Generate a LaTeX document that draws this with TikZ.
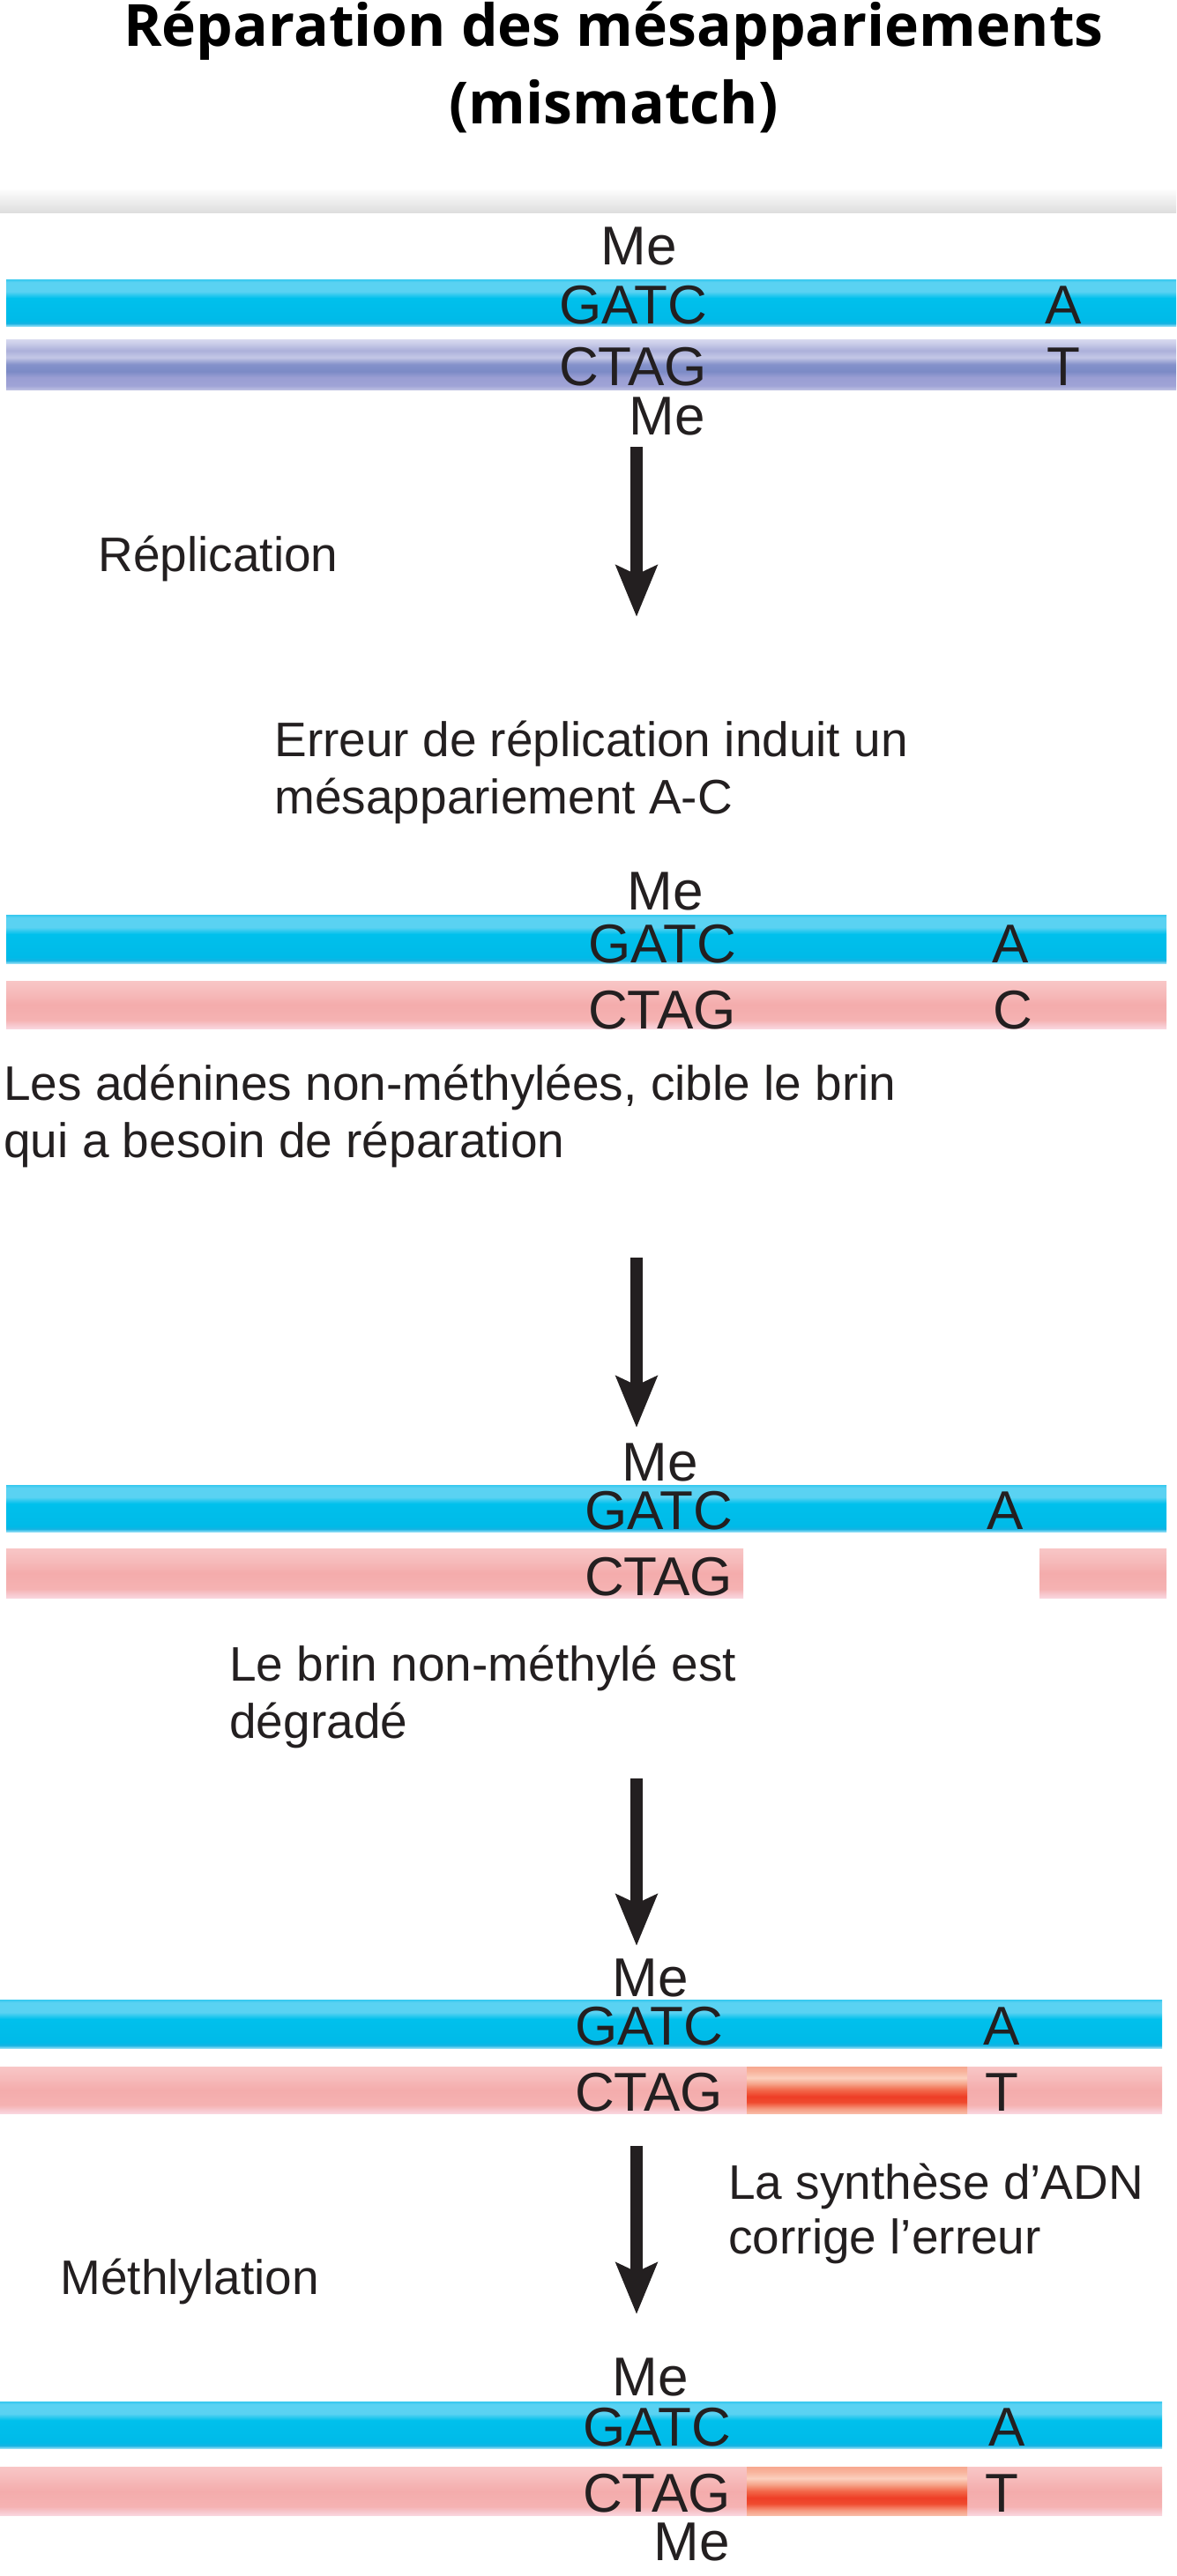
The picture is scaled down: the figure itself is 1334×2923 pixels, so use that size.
\documentclass[tikz,border=0pt]{standalone}
\usepackage{fontspec}
\setmainfont{Liberation Sans}
\newfontfamily\titlefont{Open Sans}
\usetikzlibrary{arrows.meta}
\definecolor{txt}{HTML}{231F20}
% blue strand
\definecolor{bA}{HTML}{8FDDF5}\definecolor{bB}{HTML}{14B2E2}\definecolor{bC}{HTML}{00BAE8}
\definecolor{bD}{HTML}{00C0EC}\definecolor{bE}{HTML}{5AD2F2}\definecolor{bF}{HTML}{35C8EF}
% lavender strand
\definecolor{lA}{HTML}{BBBEE1}\definecolor{lB}{HTML}{9FA3D6}\definecolor{lC}{HTML}{9A9ED3}
\definecolor{lD}{HTML}{7C8BC6}\definecolor{lE}{HTML}{8491CA}\definecolor{lF}{HTML}{C4C7E6}
\definecolor{lG}{HTML}{ACB0DA}\definecolor{lH}{HTML}{CACDE9}\definecolor{lI}{HTML}{D8DAEF}
% pink strand
\definecolor{pA}{HTML}{F9D6DE}\definecolor{pB}{HTML}{F7C6CC}\definecolor{pC}{HTML}{F5B2B2}
\definecolor{pD}{HTML}{F4ACAC}\definecolor{pE}{HTML}{F6BABA}\definecolor{pF}{HTML}{F8C6C6}
% red (new synthesis)
\definecolor{rA}{HTML}{F8BBA6}\definecolor{rB}{HTML}{F69A80}\definecolor{rC}{HTML}{EF4B2F}
\definecolor{rD}{HTML}{EE3E26}\definecolor{rE}{HTML}{F2684A}\definecolor{rF}{HTML}{F6A68C}
\definecolor{rG}{HTML}{FBD0BE}\definecolor{rH}{HTML}{F8B39C}\definecolor{rI}{HTML}{F7A890}
\pgfdeclareverticalshading{blueband}{100bp}{color(0bp)=(bA); color(25bp)=(bA); color(28bp)=(bB);
  color(31bp)=(bC); color(55bp)=(bD); color(62bp)=(bE); color(72bp)=(bE); color(75bp)=(bF); color(100bp)=(bF)}
\pgfdeclareverticalshading{lavband}{100bp}{color(0bp)=(lA); color(25bp)=(lA); color(29bp)=(lB);
  color(37bp)=(lC); color(43bp)=(lD); color(50bp)=(lE); color(57bp)=(lF); color(64bp)=(lG);
  color(71bp)=(lH); color(75bp)=(lI); color(100bp)=(lI)}
\pgfdeclareverticalshading{pinkband}{100bp}{color(0bp)=(pA); color(25bp)=(pA); color(29bp)=(pB);
  color(34bp)=(pC); color(50bp)=(pD); color(62bp)=(pE); color(75bp)=(pF); color(100bp)=(pF)}
\pgfdeclareverticalshading{redband}{100bp}{color(0bp)=(rA); color(25bp)=(rA); color(30bp)=(rB);
  color(37bp)=(rC); color(43bp)=(rD); color(50bp)=(rE); color(57bp)=(rF); color(63bp)=(rG);
  color(70bp)=(rH); color(75bp)=(rI); color(100bp)=(rI)}
\begin{document}
\begin{tikzpicture}[x=0.5pt,y=-0.5pt,
  ttl/.style={font=\titlefont\bfseries\fontsize{33}{33}\selectfont, text=black, inner sep=0pt, anchor=base},
  seq/.style={font=\fontsize{31}{31}\selectfont, text=txt, inner sep=0pt, anchor=base},
  lab/.style={font=\fontsize{27.5}{30}\selectfont, text=txt, inner sep=0pt, anchor=base west},
  arr/.style={line width=7pt, draw=txt, -{Stealth[length=29pt,width=23pt,inset=5pt]}},
  blue/.style={shading=blueband},
  lav/.style={shading=lavband},
  pink/.style={shading=pinkband},
  red/.style={shading=redband}]
\useasboundingbox (0,0) rectangle (1334,2923);
\fill[white] (0,0) rectangle (1334,2923);
% title
\node[ttl] (t1) at (696,52) {Réparation des mésappariements};
\node[ttl] (t2) at (696,140) {(mismatch)};
\shade[top color=white, bottom color=black!13] (0,213) rectangle (1334,241);

% ---- stage 1
\shade[blue] (7,317) rectangle (1334,370);
\shade[lav] (7,385) rectangle (1334,442);
\node[seq] (me1) at (725,300) {Me};
\node[seq] (g1) at (718,367) {GATC};
\node[seq] (a1) at (1206,367) {A};
\node[seq] (c1) at (718,437) {CTAG};
\node[seq] (b1) at (1206,437) {T};
\node[seq] (me1b) at (757,493) {Me};

\coordinate (s1) at (722,507);
\coordinate (e1) at (722,700);
\draw[arr] (s1) -- (e1);
\node[lab] (rep) at (111,648) {Réplication};

\node[lab] (err1) at (311,858) {Erreur de réplication induit un};
\node[lab] (err2) at (311,923) {mésappariement A-C};

% ---- stage 2
\shade[blue] (7,1038) rectangle (1323,1093);
\shade[pink] (7,1113) rectangle (1323,1167);
\node[seq] (me2) at (755,1032) {Me};
\node[seq] (g2) at (751,1092) {GATC};
\node[seq] (a2) at (1146,1092) {A};
\node[seq] (c2) at (751,1167) {CTAG};
\node[seq] (b2) at (1149,1167) {C};

\node[lab] (ade1) at (4,1248) {Les adénines non-méthylées, cible le brin};
\node[lab] (ade2) at (4,1313) {qui a besoin de réparation};

\coordinate (s2) at (722,1427);
\coordinate (e2) at (722,1620);
\draw[arr] (s2) -- (e2);

% ---- stage 3
\shade[blue] (7,1685) rectangle (1323,1738);
\shade[pink] (7,1757) rectangle (843,1813);
\shade[pink] (1179,1757) rectangle (1323,1813);
\node[seq] (me3) at (749,1680) {Me};
\node[seq] (g3) at (747,1735) {GATC};
\node[seq] (a3) at (1140,1735) {A};
\node[seq] (c3) at (747,1810) {CTAG};

\node[lab] (deg1) at (260,1907) {Le brin non-méthylé est};
\node[lab] (deg2) at (260,1972) {dégradé};

\coordinate (s3) at (722,2018);
\coordinate (e3) at (722,2208);
\draw[arr] (s3) -- (e3);

% ---- stage 4
\shade[blue] (0,2269) rectangle (1318,2324);
\shade[pink] (0,2345) rectangle (1318,2398);
\shade[red] (847,2345) rectangle (1097,2398);
\node[seq] (me4) at (738,2265) {Me};
\node[seq] (g4) at (736,2320) {GATC};
\node[seq] (a4) at (1136,2320) {A};
\node[seq] (c4) at (736,2395) {CTAG};
\node[seq] (b4) at (1136,2395) {T};

\coordinate (s4) at (722,2435);
\coordinate (e4) at (722,2626);
\draw[arr] (s4) -- (e4);
\node[lab] (syn1) at (826,2495) {La synthèse d’ADN};
\node[lab] (syn2) at (826,2557) {corrige l’erreur};
\node[lab] (met) at (68,2603) {Méthlylation};

% ---- stage 5
\shade[blue] (0,2725) rectangle (1318,2778);
\shade[pink] (0,2799) rectangle (1318,2854);
\shade[red] (847,2799) rectangle (1097,2854);
\node[seq] (me5) at (738,2718) {Me};
\node[seq] (g5) at (745,2775) {GATC};
\node[seq] (a5) at (1142,2775) {A};
\node[seq] (c5) at (745,2850) {CTAG};
\node[seq] (b5) at (1136,2850) {T};
\node[seq] (me5b) at (785,2905) {Me};
\end{tikzpicture}
\end{document}
